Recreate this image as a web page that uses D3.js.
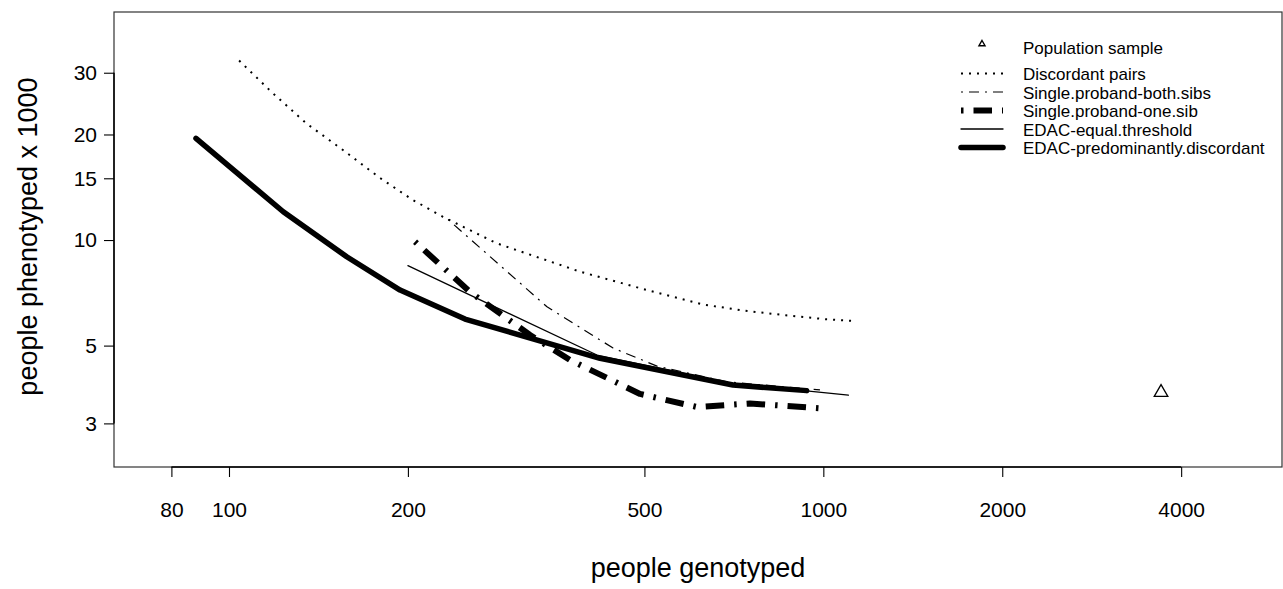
<!DOCTYPE html>
<html>
<head>
<meta charset="utf-8">
<title>people phenotyped vs genotyped</title>
<script src="https://d3js.org/d3.v7.min.js"></script>
<style>
  body { margin: 0; background: #fff; }
  svg { display: block; font-family: "Liberation Sans", Arial, Helvetica, sans-serif; }
</style>
</head>
<body>
<svg id="chart"></svg>
<script>
// values (x = people genotyped, y = people phenotyped / 1000)
const discordantX = [104, 118, 135, 155.5, 179.6, 204, 229, 282, 390, 505, 627, 736, 865, 1014, 1118];
const discordantY = [32.5, 26.4, 21.5, 18.06, 15.02, 13.0, 11.65, 9.79, 8.12, 7.2, 6.55, 6.29, 6.1, 5.94, 5.88];

const bothSibsX = [233.7, 342.8, 442.8, 525, 688.6, 987];
const bothSibsY = [11.44, 6.45, 4.92, 4.37, 3.94, 3.74];

const oneSibX = [205.6, 254.4, 321, 374.8, 491.6, 613, 752.6, 994];
const oneSibY = [9.89, 7.11, 5.36, 4.55, 3.64, 3.34, 3.42, 3.31];

const equalX = [200, 416, 697, 1102];
const equalY = [8.45, 4.70, 3.91, 3.61];

const predomX = [88, 123.4, 157.8, 194, 249.5, 421, 704.7, 937.7];
const predomY = [19.5, 12.04, 8.96, 7.2, 5.95, 4.6, 3.86, 3.72];

const popX = [3700];
const popY = [3.7];

const xTicks = [80, 100, 200, 500, 1000, 2000, 4000];
const yTicks = [3, 5, 10, 15, 20, 30];

const seriesNames = ["Discordant pairs", "Single.proband-both.sibs", "Single.proband-one.sib",
                     "EDAC-equal.threshold", "EDAC-predominantly.discordant"];

const W = 1283, H = 589;
const pLeft = 114, pRight = 1282, pTop = 12, pBottom = 467;

const svg = d3.select('#chart').attr('width', W).attr('height', H);

const x = d3.scaleLog().domain([64.05, 5912]).range([pLeft, pRight]);
const y = d3.scaleLog().domain([2.253, 44.7]).range([pBottom, pTop]);

// line styles
const styles = [
  { w: 2,   dash: '2,6',            cap: 'butt' },
  { w: 1.2, dash: '2,6,10,6',       cap: 'butt' },
  { w: 6,   dash: '2.5,10,18.5,10', cap: 'butt' },
  { w: 1.3, dash: null,             cap: 'round' },
  { w: 5.5, dash: null,             cap: 'round' }
];

const series = [
  [discordantX, discordantY],
  [bothSibsX, bothSibsY],
  [oneSibX, oneSibY],
  [equalX, equalY],
  [predomX, predomY]
];

// box
svg.append('rect')
  .attr('x', pLeft).attr('y', pTop)
  .attr('width', pRight - pLeft).attr('height', pBottom - pTop)
  .style('fill', 'none').style('stroke', '#333').style('stroke-width', 1.2);

// axes
const xAxis = d3.axisBottom(x).tickValues(xTicks).tickFormat(d3.format('d'))
  .tickSize(10).tickPadding(25.5);
const gx = svg.append('g').attr('transform', `translate(0,${pBottom})`).call(xAxis);
gx.select('.domain').remove();
gx.append('line').attr('x1', x(80)).attr('x2', x(4000)).attr('y1', 0).attr('y2', 0)
  .style('stroke', '#000').style('stroke-width', 1.5);

const yAxis = d3.axisLeft(y).tickValues(yTicks).tickFormat(d3.format('d'))
  .tickSize(10).tickPadding(7);
const gy = svg.append('g').attr('transform', `translate(${pLeft},0)`).call(yAxis);
gy.select('.domain').remove();
gy.append('line').attr('x1', 0).attr('x2', 0).attr('y1', y(3)).attr('y2', y(30))
  .style('stroke', '#000').style('stroke-width', 1.5);

svg.selectAll('.tick line').style('stroke', '#000').style('stroke-width', 1.1);
svg.selectAll('.tick text')
  .style('font-family', '"Liberation Sans", Arial, sans-serif')
  .style('font-size', '21px').style('fill', '#000');

// axis titles
svg.append('text')
  .attr('x', (pLeft + pRight) / 2).attr('y', 577)
  .attr('text-anchor', 'middle')
  .style('font-size', '27px')
  .text('people genotyped');

svg.append('text')
  .attr('transform', `translate(36.5,${(pTop + pBottom) / 2 - 3}) rotate(-90)`)
  .attr('text-anchor', 'middle')
  .style('font-size', '27px')
  .text('people phenotyped x 1000');

// curves
const line = d3.line().x(d => x(d[0])).y(d => y(d[1]));

series.forEach(function(s, i) {
  const pts = s[0].map((v, k) => [v, s[1][k]]);
  const st = styles[i];
  svg.append('path')
    .attr('d', line(pts))
    .style('fill', 'none')
    .style('stroke', '#000')
    .style('stroke-width', st.w)
    .style('stroke-linejoin', 'round')
    .style('stroke-linecap', st.cap)
    .style('stroke-dasharray', st.dash);
});

// population sample point
svg.selectAll('.pop')
  .data(popX.map((v, k) => [v, popY[k]]))
  .enter().append('path')
  .attr('class', 'pop')
  .attr('transform', d => `translate(${x(d[0])},${y(d[1]) + 1})`)
  .attr('d', d3.symbol().type(d3.symbolTriangle).size(80))
  .style('fill', 'none').style('stroke', '#000').style('stroke-width', 1.3);

// legend
const lg = svg.append('g');
lg.append('path')
  .attr('transform', 'translate(982,44)')
  .attr('d', d3.symbol().type(d3.symbolTriangle).size(16))
  .style('fill', 'none').style('stroke', '#000').style('stroke-width', 1.4);
lg.append('text').attr('x', 1023).attr('y', 53.5)
  .style('font-size', '17px').text('Population sample');

seriesNames.forEach(function(name, i) {
  const ly = 73.5 + i * 18.5;
  const st = styles[i];
  lg.append('line')
    .attr('x1', 961).attr('x2', 1003).attr('y1', ly).attr('y2', ly)
    .style('stroke', '#000')
    .style('stroke-width', st.w)
    .style('stroke-linecap', st.cap)
    .style('stroke-dasharray', st.dash);
  lg.append('text').attr('x', 1023).attr('y', ly + 6.5)
    .style('font-size', '17px').text(name);
});
</script>
</body>
</html>
